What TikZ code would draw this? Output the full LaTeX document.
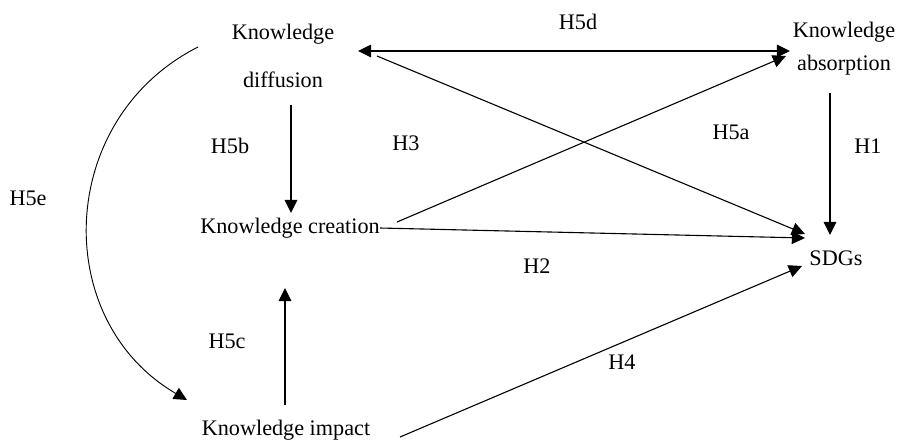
\documentclass[tikz,border=0pt]{standalone}
\usepackage{fontspec}
\setmainfont{Liberation Serif}
\usepackage{tikz}
\usetikzlibrary{arrows.meta}

\begin{document}
\begin{tikzpicture}[x = 0.019cm, y = -0.019cm,
  concept/.style = { inner sep = 0pt, align = center, font = \fontsize{12}{14}\selectfont },
  hyp/.style = { inner sep = 0pt, font = \fontsize{12}{14}\selectfont },
  link/.style = { line width = 0.6pt, -{Triangle[length = 0.25cm, width = 0.24cm]} },
  both/.style = { line width = 0.6pt, {Triangle[length = 0.25cm, width = 0.24cm]}-{Triangle[length = 0.25cm, width = 0.24cm]} }]

\useasboundingbox ( 0, 0 ) rectangle ( 897, 441 );

% Constructs
\node[concept] (diff) at ( 283, 56 ) {Knowledge\\[12pt]diffusion};
\node[concept] (absorb) at ( 844, 49 ) {Knowledge\\[3.8pt]absorption};
\node[concept] (create) at ( 290, 228 ) {Knowledge creation};
\node[concept] (sdg) at ( 836, 258 ) {SDGs};
\node[concept] (impact) at ( 286, 430 ) {Knowledge impact};

% Hypotheses
\node[hyp] (h5d) at ( 578, 22 ) {H5d};
\node[hyp] (h5b) at ( 230, 146 ) {H5b};
\node[hyp] (h3) at ( 406, 143 ) {H3};
\node[hyp] (h5a) at ( 731, 132 ) {H5a};
\node[hyp] (h1) at ( 868, 146 ) {H1};
\node[hyp] (h5e) at ( 28, 198 ) {H5e};
\node[hyp] (h2) at ( 537, 266 ) {H2};
\node[hyp] (h5c) at ( 227, 341 ) {H5c};
\node[hyp] (h4) at ( 622, 362 ) {H4};

% Paths
\draw[both] ([shift={(75,-5)}]diff.center) -- ([shift={(-54,2)}]absorb.center);
\draw[link] ([shift={(94,0)}]diff.center) -- ([shift={(-31,-24)}]sdg.center);
\draw[link] ([shift={(107,-6)}]create.center) -- ([shift={(-58,7)}]absorb.center);
\draw[link] ([shift={(90,0)}]create.center) -- ([shift={(-31,-20)}]sdg.center);
\draw[link] ([shift={(-14,44)}]absorb.center) -- ([shift={(-6,-23)}]sdg.center);
\draw[link] ([shift={(8,49)}]diff.center) -- ([shift={(1,-15)}]create.center);
\draw[link] ([shift={(-1,-25)}]impact.center) -- ([shift={(-5,60)}]create.center);
\draw[link] ([shift={(114,7)}]impact.center) -- ([shift={(-34,8)}]sdg.center);

% H5e
\draw[link, line width = 0.5pt] ([shift={(-85,-9)}]diff.center) .. controls +( -142, 72 ) and +( -137, -80 ) .. ([shift={(-99,-30)}]impact.center);

\end{tikzpicture}
\end{document}
